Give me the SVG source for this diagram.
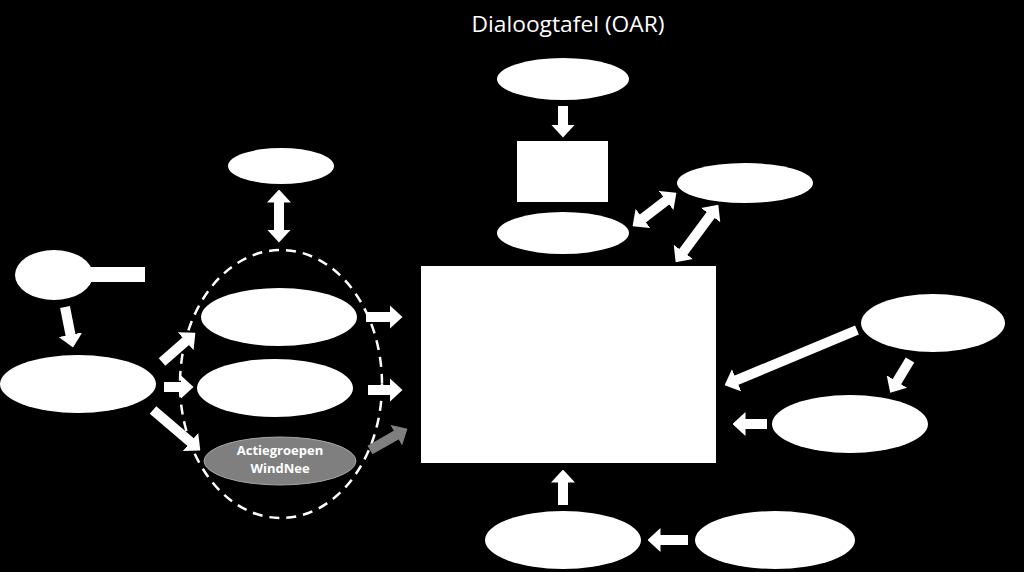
<svg xmlns="http://www.w3.org/2000/svg" width="1024" height="572" viewBox="0 0 1024 572">
<defs>
<style>
.n{fill:#ffffff;}
.c line{stroke:#ffffff;stroke-width:10;marker-end:url(#ah);}
.c line.d{marker-start:url(#ah);}
.c line.g{stroke:#7f7f7f;marker-end:url(#ahg);}
.t{font-family:"Open Sans","Liberation Sans",sans-serif;fill:#ffffff;}
</style>
<marker id="ah" markerUnits="userSpaceOnUse" markerWidth="13" markerHeight="24" viewBox="0 0 13 24" refX="0.5" refY="12" orient="auto-start-reverse"><path d="M0,0 L13,12 L0,24 z" fill="#ffffff"/></marker>
<marker id="ahg" markerUnits="userSpaceOnUse" markerWidth="13" markerHeight="24" viewBox="0 0 13 24" refX="0.5" refY="12" orient="auto"><path d="M0,0 L13,12 L0,24 z" fill="#7f7f7f"/></marker>
</defs>
<rect width="1024" height="572" fill="#000000"/>
<text class="t" x="568" y="32" font-size="21" text-anchor="middle" textLength="193" lengthAdjust="spacingAndGlyphs">Dialoogtafel (OAR)</text>

<g id="n-top"><ellipse class="n" cx="563" cy="79" rx="66" ry="21"/></g>
<g id="n-rect-small"><rect class="n" x="517" y="141" width="91" height="61"/></g>
<g id="n-mid"><ellipse class="n" cx="563" cy="233" rx="66" ry="21"/></g>
<g id="n-right-top"><ellipse class="n" cx="745" cy="183" rx="68" ry="20"/></g>
<g id="n-main"><rect class="n" x="421" y="266" width="295" height="197"/></g>
<g id="n-r1"><ellipse class="n" cx="933" cy="323" rx="72" ry="29"/></g>
<g id="n-r2"><ellipse class="n" cx="850" cy="424" rx="78" ry="29"/></g>
<g id="n-b1"><ellipse class="n" cx="563" cy="540" rx="78" ry="29"/></g>
<g id="n-b2"><ellipse class="n" cx="775" cy="540" rx="80" ry="29"/></g>

<g id="n-l-top"><ellipse class="n" cx="281" cy="166" rx="53" ry="18"/></g>
<g id="n-group"><ellipse cx="281" cy="384" rx="101" ry="134" fill="none" stroke="#ffffff" stroke-width="2.5" stroke-dasharray="10 7"/></g>
<g id="n-g1"><ellipse class="n" cx="279" cy="317" rx="78" ry="29"/></g>
<g id="n-g2"><ellipse class="n" cx="275" cy="388" rx="78" ry="29"/></g>
<g id="n-g3"><ellipse cx="280" cy="461" rx="76" ry="24" fill="#7f7f7f" stroke="#a6a6a6" stroke-width="1"/>
<text class="t" x="280" y="455" font-size="13" font-weight="bold" text-anchor="middle" fill="#eeeeee">Actiegroepen</text>
<text class="t" x="280" y="473" font-size="13" font-weight="bold" text-anchor="middle" fill="#eeeeee">WindNee</text></g>
<g id="n-src"><ellipse class="n" cx="54" cy="275" rx="39" ry="25"/><rect class="n" x="90" y="267" width="55" height="15"/></g>
<g id="n-l-big"><ellipse class="n" cx="78" cy="384" rx="78" ry="29"/></g>

<g id="connectors" class="c">
<line x1="563" y1="106" x2="563" y2="125"/>
<line class="d" x1="279" y1="202" x2="279" y2="230"/>
<line class="d" x1="642.5" y1="218.7" x2="666.5" y2="200.3"/>
<line class="d" x1="683.1" y1="252.3" x2="710.9" y2="214.7"/>
<line x1="857" y1="330" x2="736.1" y2="380.4"/>
<line x1="910" y1="360" x2="896.7" y2="382"/>
<line x1="767" y1="424" x2="745" y2="424"/>
<line x1="563" y1="505" x2="563" y2="482"/>
<line x1="688" y1="540" x2="660" y2="540"/>
<line x1="65" y1="307" x2="70.6" y2="335.2"/>
<line x1="162" y1="362" x2="186" y2="340.9"/>
<line x1="164" y1="387" x2="181" y2="387"/>
<line x1="153" y1="410" x2="190.8" y2="442.3"/>
<line x1="366" y1="317" x2="390" y2="317"/>
<line x1="368" y1="390" x2="390" y2="390"/>
<line class="g" x1="370" y1="450" x2="396.6" y2="434.9"/>
</g>
</svg>
